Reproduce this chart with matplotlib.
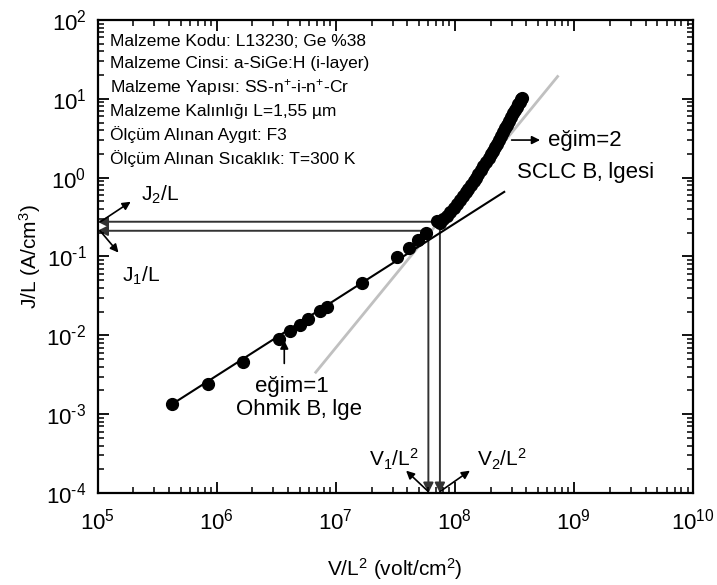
import numpy as np
import matplotlib
matplotlib.use('Agg')
import matplotlib.pyplot as plt

plt.rcParams['font.family'] = ['Liberation Sans', 'DejaVu Sans']
plt.rcParams['mathtext.fontset'] = 'custom'
plt.rcParams['mathtext.rm'] = 'Liberation Sans'
plt.rcParams['mathtext.it'] = 'Liberation Sans:italic'
plt.rcParams['mathtext.bf'] = 'Liberation Sans:bold'
plt.rcParams['axes.unicode_minus'] = False

# ohmik bölge ölçümleri
v_ohm = [4.2e5, 8.4e5, 1.66e6, 3.34e6, 4.16e6, 5.0e6, 5.9e6, 7.4e6, 8.4e6,
         1.65e7, 3.3e7, 4.15e7, 4.95e7, 5.75e7, 7.1e7]
j_ohm = [1.33e-3, 2.41e-3, 4.55e-3, 8.98e-3, 1.15e-2, 1.35e-2, 1.6e-2, 2.04e-2, 2.26e-2,
         4.57e-2, 9.8e-2, 0.128, 0.160, 0.201, 0.278]

# SCLC bölgesi ölçümleri
v_sclc = [7.5e7, 8.0e7, 8.6e7, 9.2e7, 9.9e7, 1.05e8, 1.11e8, 1.17e8, 1.24e8, 1.30e8,
          1.37e8, 1.44e8, 1.51e8, 1.58e8, 1.66e8, 1.74e8, 1.83e8, 1.92e8, 2.01e8, 2.09e8,
          2.18e8, 2.26e8, 2.35e8, 2.45e8, 2.54e8, 2.64e8, 2.74e8, 2.85e8, 2.97e8, 3.08e8,
          3.20e8, 3.30e8, 3.40e8, 3.50e8, 3.60e8, 3.68e8]
j_sclc = [0.266, 0.295, 0.326, 0.367, 0.417, 0.468, 0.524, 0.582, 0.655, 0.724,
          0.811, 0.90, 0.995, 1.11, 1.25, 1.41, 1.58, 1.78, 1.99, 2.20,
          2.45, 2.70, 3.01, 3.40, 3.79, 4.22, 4.66, 5.24, 5.89, 6.53,
          7.21, 7.92, 8.59, 9.25, 9.95, 10.2]

# eğim=1 ve eğim=2 doğruları
fit1_v = [4.2e5, 2.6e8]
fit1_j = [1.33e-3, 0.66]
fit2_v = [6.8e6, 7.3e8]
fit2_j = [3.4e-3, 19.2]

# geçiş noktaları
V1, J1 = 6.0e7, 0.212
V2, J2 = 7.5e7, 0.276

info = ['Malzeme Kodu: L13230; Ge %38',
        'Malzeme Cinsi: a-SiGe:H (i-layer)',
        'Malzeme Yapısı: SS-n$^{+}$-i-n$^{+}$-Cr',
        'Malzeme Kalınlığı L=1,55 µm',
        'Ölçüm Alınan Aygıt: F3',
        'Ölçüm Alınan Sıcaklık: T=300 K']
info_y = [0.9556, 0.907, 0.857, 0.8076, 0.758, 0.708]


def dec_label(val, pos):
    e = int(round(np.log10(val)))
    s = str(abs(e))
    if e < 0:
        s = '\u2010' + s
    return '10$^{' + s + '}$'


fig = plt.figure(figsize=(7.17, 5.85), dpi=100)
ax = fig.add_axes([0.136, 0.1573, 0.8305, 0.8085])
ax.set_xscale('log')
ax.set_yscale('log')
ax.set_xlim(1e5, 1e10)
ax.set_ylim(1e-4, 1e2)

ax.plot(fit2_v, fit2_j, color='#c0c0c0', lw=2.0, zorder=2)
ax.plot(fit1_v, fit1_j, color='black', lw=1.5, zorder=3)
ax.plot(v_ohm, j_ohm, 'o', color='black', ms=8.5, zorder=4)
ax.plot(v_sclc, j_sclc, 'o', color='black', ms=8.5, zorder=4)

# J ve V okumalarını gösteren oklar
ref = dict(arrowstyle='-|>', color='#333333', lw=1.4, mutation_scale=15,
           shrinkA=0, shrinkB=0)
for v, j in [(V1, J1), (V2, J2)]:
    ax.annotate('', xy=(1e5, j), xytext=(v, j), arrowprops=ref, zorder=1)
    ax.annotate('', xy=(v, 1e-4), xytext=(v, j), arrowprops=ref, zorder=1)

small = dict(arrowstyle='-|>', color='black', lw=1.2, mutation_scale=12,
             shrinkA=0, shrinkB=0)
ax.annotate('', xy=(1.9e5, 0.495), xytext=(1.06e5, J2), arrowprops=small)
ax.annotate('', xy=(1.5e5, 0.112), xytext=(1.05e5, J1), arrowprops=small)
ax.annotate('', xy=(3.9e7, 1.92e-4), xytext=(V1, 1.04e-4), arrowprops=small)
ax.annotate('', xy=(1.34e8, 1.92e-4), xytext=(V2, 1.04e-4), arrowprops=small)
ax.annotate('', xy=(5.2e8, 3.0), xytext=(3.0e8, 3.0), arrowprops=small)
ax.annotate('', xy=(3.7e6, 8.6e-3), xytext=(3.7e6, 4.4e-3), arrowprops=small)

fs = 15
ax.text(2.3e5, 0.60, 'J$_2$/L', fontsize=fs, va='center', ha='left')
ax.text(1.6e5, 0.0575, 'J$_1$/L', fontsize=fs, va='center', ha='left')
ax.text(1.9e7, 2.65e-4, 'V$_1$/L$^2$', fontsize=fs, va='center', ha='left')
ax.text(1.55e8, 2.65e-4, 'V$_2$/L$^2$', fontsize=fs, va='center', ha='left')
ax.text(6.05e8, 2.95, 'eğim=2', fontsize=16, va='center', ha='left')
ax.text(3.33e8, 1.15, 'SCLC B‚ lgesi', fontsize=16, va='center', ha='left')
ax.text(4.3e6, 2.27e-3, 'eğim=1', fontsize=16, va='center', ha='center')
ax.text(4.9e6, 1.13e-3, 'Ohmik B‚ lge', fontsize=16, va='center', ha='center')

for s, y in zip(info, info_y):
    ax.text(0.021, y, s, fontsize=12.5, transform=ax.transAxes, va='center', ha='left')

ax.set_xlabel('V/L$^2$ (volt/cm$^2$)', fontsize=15, labelpad=16)
ax.set_ylabel('J/L (A/cm$^3$)', fontsize=15, labelpad=2)

ax.tick_params(which='both', direction='in', top=True, right=True)
ax.tick_params(which='major', length=8, width=1.3, labelsize=16, pad=8)
ax.tick_params(axis='x', which='major', pad=11)
ax.tick_params(which='minor', length=4, width=1.1)
ax.xaxis.set_major_formatter(matplotlib.ticker.FuncFormatter(dec_label))
ax.yaxis.set_major_formatter(matplotlib.ticker.FuncFormatter(dec_label))
ax.xaxis.set_minor_locator(matplotlib.ticker.LogLocator(base=10, subs=np.arange(2, 10), numticks=20))
ax.yaxis.set_minor_locator(matplotlib.ticker.LogLocator(base=10, subs=np.arange(2, 10), numticks=20))
ax.xaxis.set_minor_formatter(matplotlib.ticker.NullFormatter())
ax.yaxis.set_minor_formatter(matplotlib.ticker.NullFormatter())
for sp in ax.spines.values():
    sp.set_linewidth(1.6)

fig.savefig('out.png', dpi=100)
